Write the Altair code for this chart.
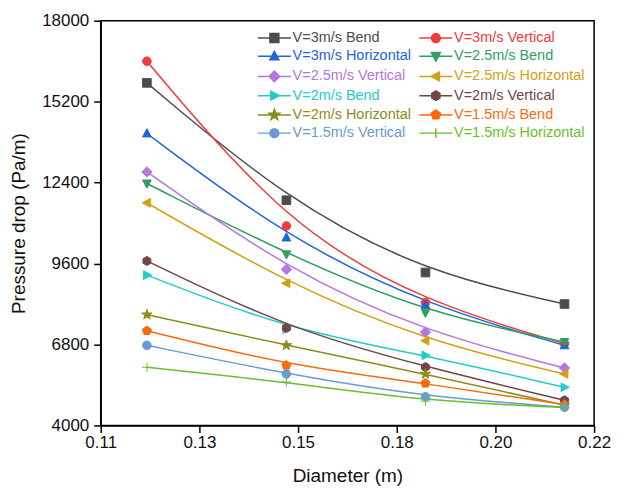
import json
import altair as alt
import pandas as pd

diameters = [0.1203, 0.1514, 0.1824, 0.2134]

series_names = [
    "V=3m/s Bend", "V=3m/s Vertical", "V=3m/s Horizontal", "V=2.5m/s Bend",
    "V=2.5m/s Vertical", "V=2.5m/s Horizontal", "V=2m/s Bend", "V=2m/s Vertical",
    "V=2m/s Horizontal", "V=1.5m/s Bend", "V=1.5m/s Vertical", "V=1.5m/s Horizontal",
]

v3_bend = [15850, 11790, 9290, 8200]
v3_vertical = [16600, 10900, 8250, 6830]
v3_horizontal = [14100, 10500, 8170, 6770]
v25_bend = [12370, 9920, 7900, 6890]
v25_vertical = [12770, 9400, 7230, 5990]
v25_horizontal = [11700, 8920, 6930, 5780]
v2_bend = [9200, 7330, 6425, 5320]
v2_vertical = [9690, 7370, 6020, 4870]
v2_horizontal = [7830, 6770, 5780, 4700]
v15_bend = [7276, 6080, 5460, 4720]
v15_vertical = [6770, 5780, 4990, 4630]
v15_horizontal = [6010, 5500, 4840, 4620]

series_values = [
    v3_bend, v3_vertical, v3_horizontal, v25_bend, v25_vertical, v25_horizontal,
    v2_bend, v2_vertical, v2_horizontal, v15_bend, v15_vertical, v15_horizontal,
]

colors = [
    "#4d4d4d", "#ef3b3b", "#1f64d8", "#2f9f5e", "#b377e0", "#d3a00f",
    "#22cccc", "#714646", "#8c8c1a", "#fb6a0c", "#6a9bd1", "#6abf2a",
]

# legend fills columns top-down: left column, then right column
legend_order = series_names[0::2] + series_names[1::2]

x_ticks = [0.11, 0.132, 0.154, 0.176, 0.198, 0.22]
y_ticks = [4000, 6800, 9600, 12400, 15200, 18000]

# marker glyphs (unit box -1..1)
sq = "M-1,-1H1V1H-1Z"
circ = "M-1,0A1,1 0 1,0 1,0A1,1 0 1,0 -1,0Z"
tri_up = "M0,-1.1L1,0.8H-1Z"
tri_down = "M0,1.1L1,-0.8H-1Z"
diam = "M0,-1.2L1.2,0L0,1.2L-1.2,0Z"
tri_left = "M-1.1,0L0.8,-1V1Z"
tri_right = "M1.1,0L-0.8,-1V1Z"
hexa = "M0,-1.05L0.91,-0.52L0.91,0.52L0,1.05L-0.91,0.52L-0.91,-0.52Z"
star = ("M0,-1.25L0.29,-0.4L1.19,-0.39L0.48,0.15L0.74,1.01L0,0.5L-0.74,1.01"
        "L-0.48,0.15L-1.19,-0.39L-0.29,-0.4Z")
penta = "M0,-1.1L1.05,-0.34L0.65,0.89L-0.65,0.89L-1.05,-0.34Z"
plus = "M-1.1,0H1.1M0,-1.1V1.1"

marker_paths = [sq, circ, tri_up, tri_down, diam, tri_left, tri_right, hexa, star, penta, circ, plus]
legend_paths = ["M-3.7,0H3.7" + p for p in marker_paths]

rows = []
for name, vals in zip(series_names, series_values):
    for d, v in zip(diameters, vals):
        rows.append({"diameter": d, "pressure": v, "series": name})
df = pd.DataFrame(rows)

font = "Liberation Sans"

x_enc = alt.X(
    "diameter:Q",
    scale=alt.Scale(domain=[0.11, 0.22], nice=False, zero=False),
    axis=alt.Axis(values=x_ticks, format=".2f", title="Diameter (m)", grid=False,
                  tickSize=7, labelPadding=2, titlePadding=16, labelFlush=False),
)
y_enc = alt.Y(
    "pressure:Q",
    scale=alt.Scale(domain=[4000, 18000], nice=False, zero=False),
    axis=alt.Axis(values=y_ticks, format="d", title="Pressure drop (Pa/m)", grid=False,
                  tickSize=7, labelPadding=5, titlePadding=13, labelFlush=False),
)

color_scale = alt.Scale(domain=series_names, range=colors)

names_js = json.dumps(series_names)
shape_expr = json.dumps(legend_paths) + "[indexof(" + names_js + ", datum.value)]"
color_expr = json.dumps(colors) + "[indexof(" + names_js + ", datum.value)]"

legend = alt.Legend(
    title=None, orient="none", legendX=167, legendY=10, columns=2, values=legend_order,
    symbolSize=80, labelOffset=11, rowPadding=2.3, columnPadding=4, padding=0,
    labelFont=font, labelFontSize=14.5, labelLimit=0, symbolStrokeWidth=1.5,
    symbolType=alt.expr(shape_expr), labelColor=alt.expr(color_expr),
)

base = alt.Chart(df)

lines = base.mark_line(interpolate="basis", strokeWidth=1.5).encode(
    x=x_enc, y=y_enc,
    color=alt.Color("series:N", sort=series_names, scale=alt.Scale(range=colors), legend=None),
    detail="series:N",
)

points = base.mark_point(filled=True, size=75, strokeWidth=1, opacity=1).encode(
    x=x_enc, y=y_enc,
    fill=alt.Fill("series:N", scale=color_scale, legend=legend),
    stroke=alt.Stroke("series:N", scale=color_scale, legend=legend),
    shape=alt.Shape("series:N", sort=series_names, scale=alt.Scale(range=marker_paths), legend=None),
)

chart = alt.layer(lines, points).properties(
    width=495, height=406,
    background="white",
    autosize=alt.AutoSizeParams(type="none"),
    padding={"left": 93, "top": 12, "right": 30, "bottom": 64},
).configure_view(stroke="#000", strokeWidth=1.5).configure_axis(
    labelFont=font, titleFont=font, labelFontSize=17, titleFontSize=19,
    titleFontWeight="normal", labelColor="#111", titleColor="#111",
    domainColor="#000", domainWidth=1.5, tickColor="#000", tickWidth=1.5,
)

chart.save("out.html", embed_options={"renderer": "svg", "actions": False})
